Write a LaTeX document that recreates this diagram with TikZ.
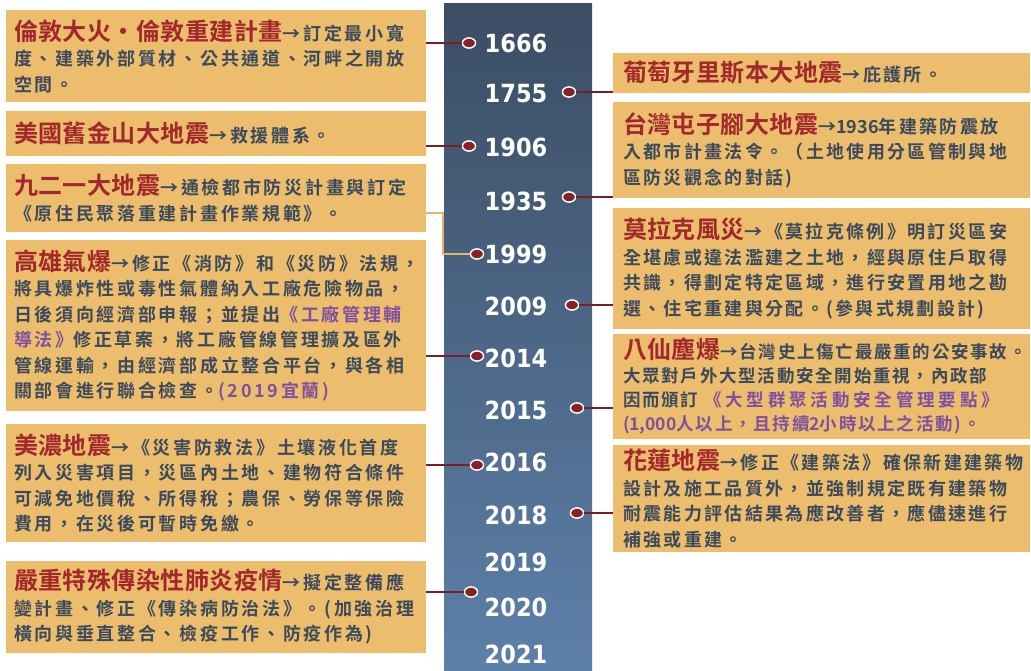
\documentclass[tikz,border=0pt]{standalone}
\usepackage{fontspec}
\usetikzlibrary{shapes.geometric}
\newfontfamily\cjk[LetterSpace=15,BoldFont={* Bold}]{Noto Sans CJK TC}
\newfontfamily\cjkr[LetterSpace=13,BoldFont={* Bold}]{Noto Sans CJK TC}
\newfontfamily\cjkt[LetterSpace=10,BoldFont={* Bold}]{Noto Sans CJK TC}
\newfontfamily\ttlfont[LetterSpace=2,BoldFont={* Bold}]{Noto Sans CJK TC}
\newfontfamily\yrfont{DejaVu Sans}
\definecolor{boxfill}{HTML}{EBBD6D}
\definecolor{ttlred}{HTML}{A3282B}
\definecolor{bodyc}{HTML}{3C4A5C}
\definecolor{pur}{HTML}{8050A0}
\definecolor{connred}{HTML}{7C1D22}
\definecolor{dotred}{HTML}{862125}
\definecolor{orangeline}{HTML}{E6B462}
\definecolor{bandtop}{HTML}{3B4D63}
\definecolor{bandbot}{HTML}{5D80A9}
\newcommand\ttlx[1]{{\ttlfont\bfseries\fontsize{24}{25.5}\selectfont\color{ttlred}#1}}
\newcommand\purx[1]{{\color{pur}#1}}
\newcommand\nls[1]{{\addfontfeature{LetterSpace=0}#1}}
\newcommand\wls[1]{{\addfontfeature{LetterSpace=22}#1}}
\tikzset{
  txt/.style={text=bodyc, align=left, fill=boxfill, inner ysep=4pt},
  lbox/.style={txt, font=\cjk\bfseries\fontsize{18}{25.5}\selectfont, text width=404pt, inner xsep=8pt, anchor=center},
  rbox/.style={txt, font=\cjkr\bfseries\fontsize{18}{25.5}\selectfont, text width=397pt, inner xsep=10pt, anchor=center},
  dotn/.style={ellipse, minimum width=13pt, minimum height=10pt, inner sep=0pt, fill=dotred, draw=white, line width=1.3pt},
  year/.style={font=\yrfont\bfseries\fontsize{25}{25}\selectfont, text=white, inner sep=0pt},
  conn/.style={draw=connred, line width=2.5pt},
  oconn/.style={draw=orangeline, line width=2.5pt}
}
\begin{document}
\begin{tikzpicture}[x=1pt,y=-1pt]
\useasboundingbox (0,0) rectangle (1031,670);
\fill[white] (0,0) rectangle (1031,670);
\shade[top color=bandtop, bottom color=bandbot] (444,3) rectangle (592,670);

% years
\foreach \yy/\yp in {1666/43,1755/94,1906/147,1935/201,1999/254,2009/306,2014/358,2015/410,2016/462,2018/515,2019/562,2020/607,2021/654}
  \node[year] (y\yy) at (516,\yp) {\scalebox{0.9}[1]{\yy}};

% dots
\node[dotn] (d1666) at (469,43) {};
\node[dotn] (d1755) at (569,92) {};
\node[dotn] (d1906) at (469,146) {};
\node[dotn] (d1935) at (569,197) {};
\node[dotn] (d1999) at (477,254) {};
\node[dotn] (d2009) at (572,305) {};
\node[dotn] (d2014) at (477,356) {};
\node[dotn] (d2015) at (577,408) {};
\node[dotn] (d2016) at (477,465) {};
\node[dotn] (d2018) at (577,513) {};
\node[dotn] (d2020) at (471,592) {};

% left boxes
\node[lbox, minimum height=92pt] (b1) at (216,56) {\ttlx{倫敦大火・倫敦重建計畫}→訂定最小寬\\度、建築外部質材、公共通道、河畔之開放\\空間。};
\node[lbox, minimum height=45pt] (b2) at (216,133.5) {\ttlx{美國舊金山大地震}→救援體系。};
\node[lbox, minimum height=68pt] (b3) at (216,198) {\ttlx{九二一大地震}→通檢都市防災計畫與訂定\\《原住民聚落重建計畫作業規範》。};
\node[lbox, minimum height=171pt] (b4) at (216,325.5) {\ttlx{高雄氣爆}→修正《消防》和《災防》法規，\\將具爆炸性或毒性氣體納入工廠危險物品，\\日後須向經濟部申報；並提出\purx{《工廠管理輔}\\\purx{導法》}修正草案，將工廠管線管理擴及區外\\管線運輸，由經濟部成立整合平台，與各相\\關部會進行聯合檢查。\purx{(2019宜蘭)}};
\node[lbox, minimum height=118pt] (b5) at (216,483) {\ttlx{美濃地震}→《災害防救法》土壤液化首度\\列入災害項目，災區內土地、建物符合條件\\可減免地價稅、所得稅；農保、勞保等保險\\費用，在災後可暫時免繳。};
\node[lbox, minimum height=92pt] (b6) at (216,607) {\ttlx{嚴重特殊傳染性肺炎疫情}→擬定整備應\\變計畫、修正《傳染病防治法》。(加強治理\\橫向與垂直整合、檢疫工作、防疫作為)};

% right boxes
\node[rbox, minimum height=40pt] (r1) at (821.5,73) {\ttlx{葡萄牙里斯本大地震}→庇護所。};
\node[rbox, minimum height=96pt] (r2) at (821.5,150) {\ttlx{台灣屯子腳大地震}→\nls{1936}年建築防震放\\入都市計畫法令。（土地使用分區管制與地\\區防災觀念的對話)};
\node[rbox, minimum height=121pt] (r3) at (821.5,268.5) {\ttlx{莫拉克風災}→《莫拉克條例》明訂災區安\\全堪慮或違法濫建之土地，經與原住戶取得\\共識，得劃定特定區域，進行安置用地之勘\\選、住宅重建與分配。(參與式規劃設計)};
\node[rbox, minimum height=101pt, font=\cjkt\bfseries\fontsize{17.5}{24}\selectfont] (r4) at (821.5,386.5) {\ttlx{八仙塵爆}→台灣史上傷亡最嚴重的公安事故。\\大眾對戶外大型活動安全開始重視，內政部\\因而頒訂 \purx{\wls{《大型群聚活動安全管理要點》}}\\\purx{\nls{(1,000}人以上，且持續\nls{2}小時以上之活動)。}};
\node[rbox, minimum height=103pt] (r5) at (821.5,498.5) {\ttlx{花蓮地震}→修正《建築法》確保新建建築物\\設計及施工品質外，並強制規定既有建築物\\耐震能力評估結果為應改善者，應儘速進行\\補強或重建。};

% connectors
\draw[conn] (b1.east |- d1666) -- (d1666.west);
\draw[conn] (b2.east |- d1906) -- (d1906.west);
\draw[conn] (b4.east |- d2014) -- (d2014.west);
\draw[conn] (b5.east |- d2016) -- (d2016.west);
\draw[conn] (b6.east |- d2020) -- (d2020.west);
\draw[conn] (d1755.east) -- (r1.west |- d1755);
\draw[conn] (d1935.east) -- (r2.west |- d1935);
\draw[conn] (d2009.east) -- (r3.west |- d2009);
\draw[conn] (d2015.east) -- (r4.west |- d2015);
\draw[conn] (d2018.east) -- (r5.west |- d2018);
\coordinate (k1) at (443,213);
\draw[oconn] (b3.east |- k1) -- (k1) |- (d1999.west);
% redraw dots above connectors
\foreach \d in {d1666,d1755,d1906,d1935,d1999,d2009,d2014,d2015,d2016,d2018,d2020}
  \node[dotn] at (\d) {};
\end{tikzpicture}
\end{document}
